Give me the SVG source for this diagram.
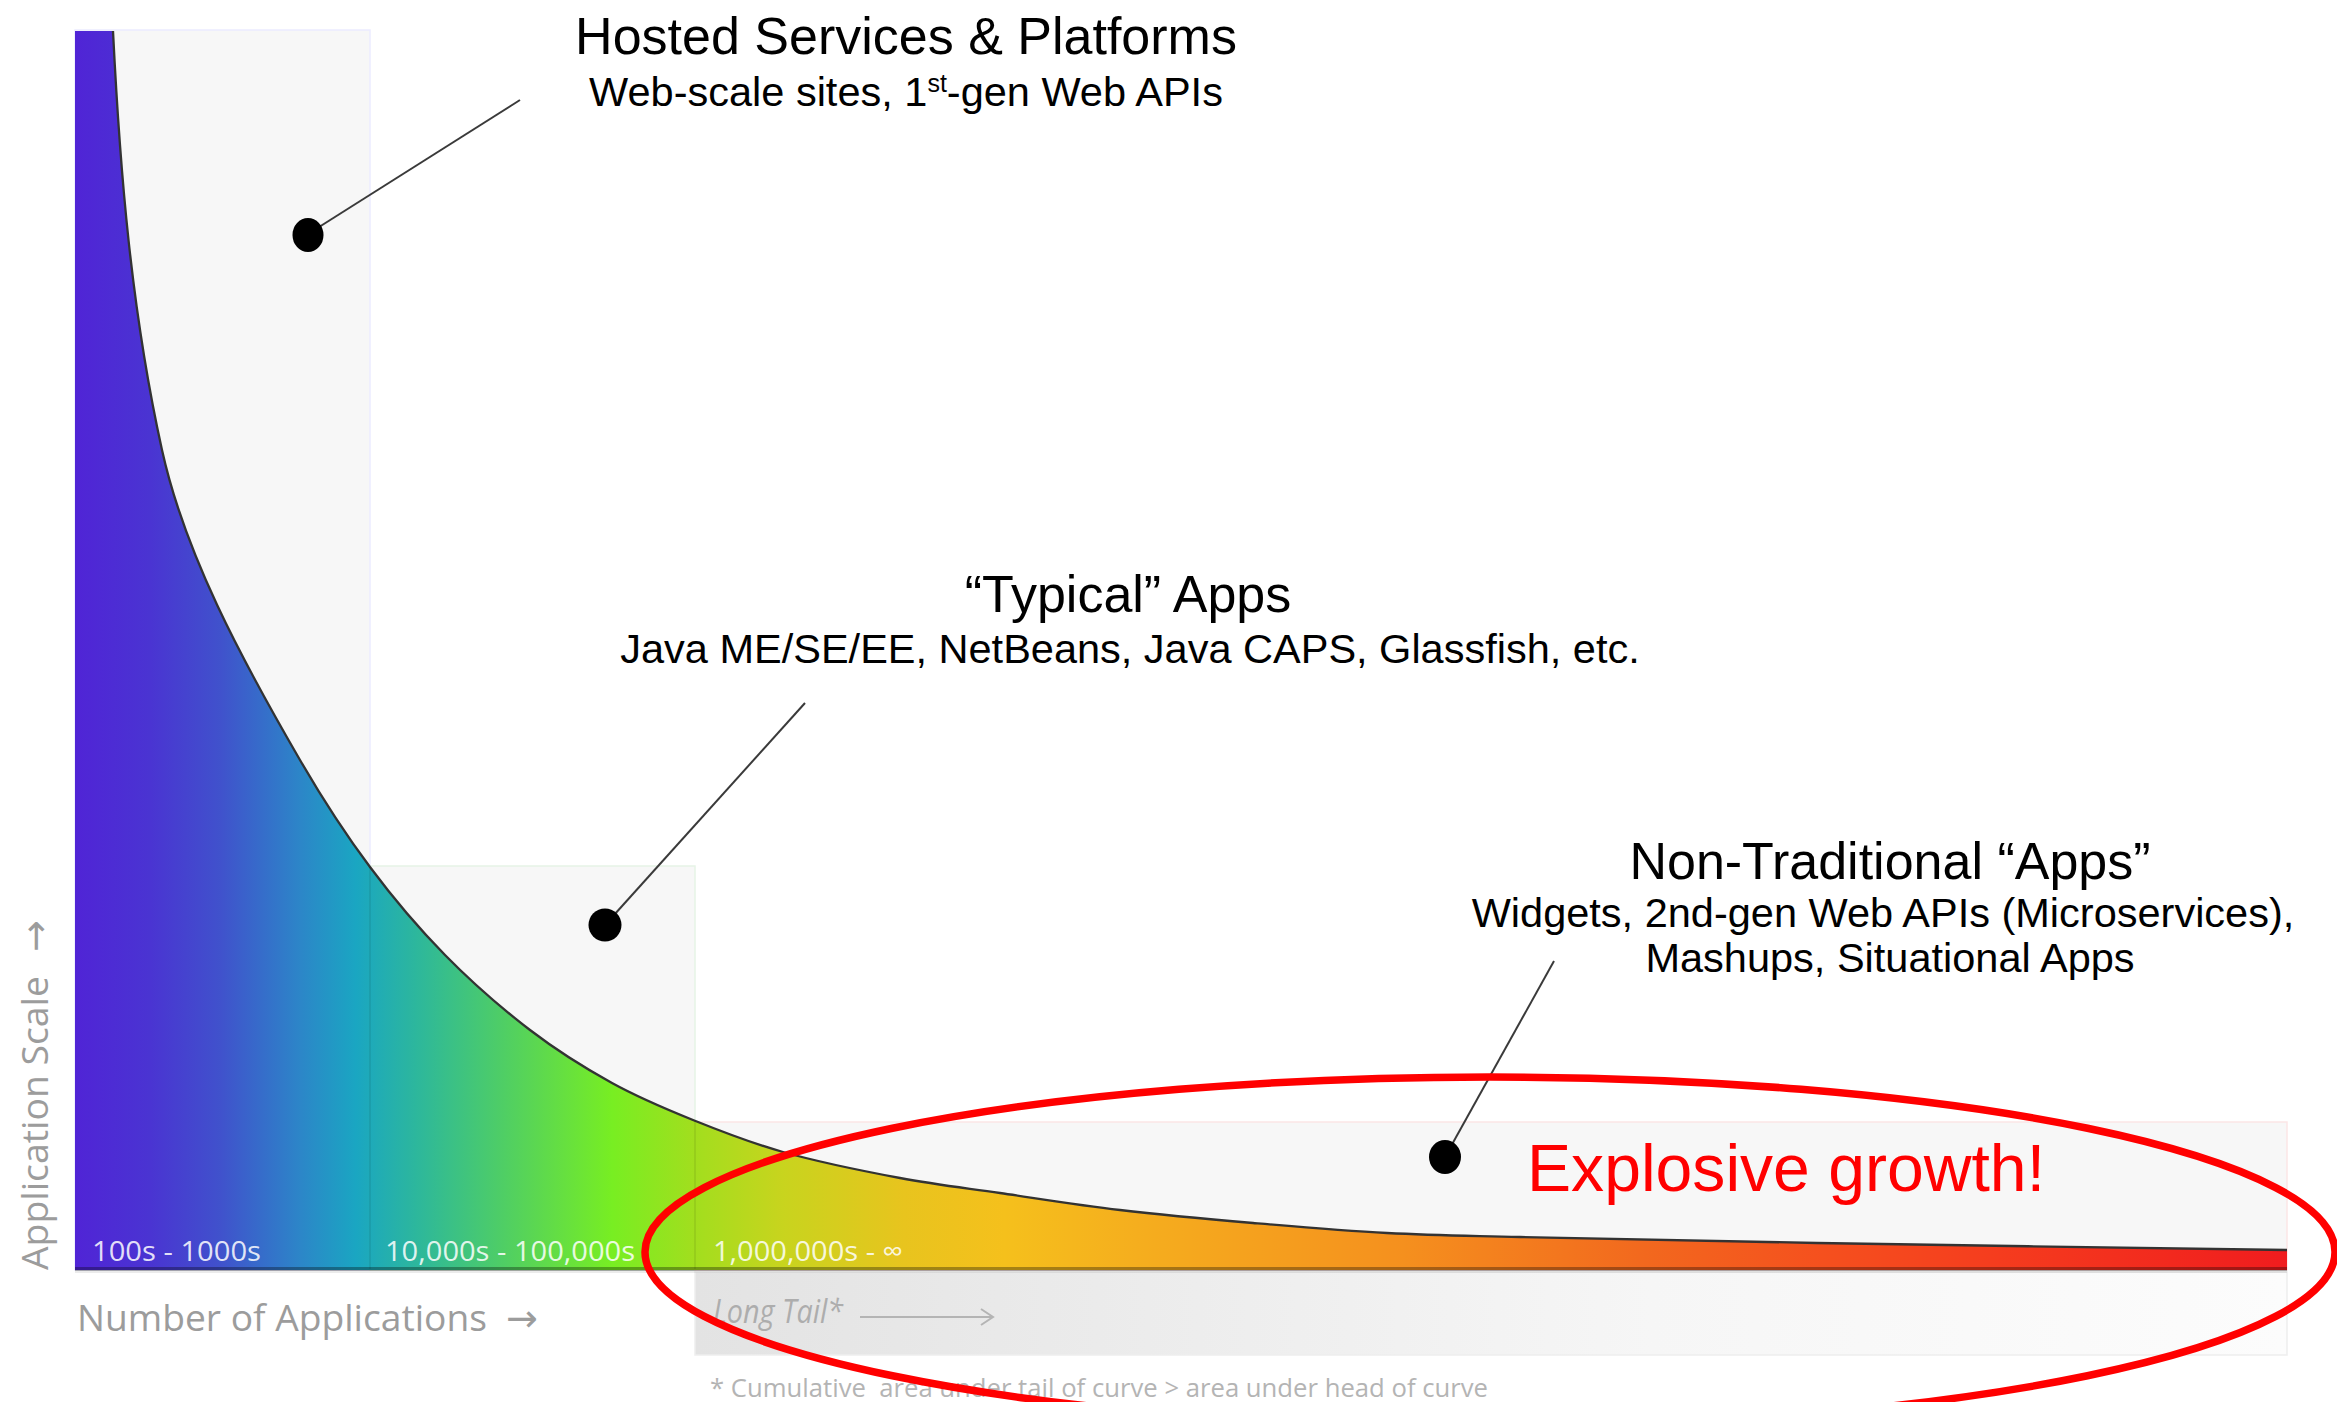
<svg xmlns="http://www.w3.org/2000/svg" width="2337" height="1402" viewBox="0 0 2337 1402">
  <style>
    .head { font-family: "Liberation Sans", Arial, sans-serif; font-size: 52px; fill: #000; text-anchor: middle; }
    .sub { font-family: "Liberation Sans", Arial, sans-serif; font-size: 41.5px; fill: #000; text-anchor: middle; }
    .axis { font-family: "Open Sans", "Noto Sans", sans-serif; font-size: 37px; fill: #9c9c9c; }
    .arrow { font-family: "DejaVu Sans", sans-serif; font-size: 38px; fill: #9c9c9c; }
    .band { font-family: "Open Sans", "Noto Sans", sans-serif; font-size: 28px; fill: #ffffff; fill-opacity: 0.85; }
    .note { font-family: "Open Sans", "Noto Sans", sans-serif; font-size: 26px; fill: #b4b4b4; white-space: pre; }
    .zone { fill: #f7f7f7; stroke-width: 1.5; }
    .leader { stroke: #3a3a3a; stroke-width: 2; fill: none; }
    .dot { fill: #000; }
  </style>
  <defs>
    <linearGradient id="spectrum" gradientUnits="userSpaceOnUse" x1="75" y1="0" x2="2287" y2="0">
      <stop offset="0" stop-color="#5024d6"/>
      <stop offset="0.034" stop-color="#4a34d2"/>
      <stop offset="0.066" stop-color="#4052cc"/>
      <stop offset="0.102" stop-color="#2c86c8"/>
      <stop offset="0.127" stop-color="#1aa6c2"/>
      <stop offset="0.156" stop-color="#2eb89a"/>
      <stop offset="0.197" stop-color="#52d060"/>
      <stop offset="0.243" stop-color="#78ee22"/>
      <stop offset="0.28" stop-color="#a2de1e"/>
      <stop offset="0.32" stop-color="#c8d41e"/>
      <stop offset="0.375" stop-color="#e8c41e"/>
      <stop offset="0.42" stop-color="#f5c01c"/>
      <stop offset="0.48" stop-color="#f5ae1e"/>
      <stop offset="0.6" stop-color="#f5901e"/>
      <stop offset="0.71" stop-color="#f2681e"/>
      <stop offset="0.79" stop-color="#f5501e"/>
      <stop offset="0.87" stop-color="#f53c1e"/>
      <stop offset="1" stop-color="#f01c1e"/>
    </linearGradient>
    <linearGradient id="tailband" gradientUnits="userSpaceOnUse" x1="695" y1="0" x2="2287" y2="0">
      <stop offset="0" stop-color="#e3e3e3"/>
      <stop offset="0.6" stop-color="#f6f6f6"/>
      <stop offset="1" stop-color="#fcfcfc"/>
    </linearGradient>
    <marker id="openhead" viewBox="0 0 20 20" refX="18" refY="10" markerWidth="20" markerHeight="20" markerUnits="userSpaceOnUse" orient="auto">
      <path d="M6,2 L18,10 L6,18" fill="none" stroke="#b4b4b4" stroke-width="2"/>
    </marker>
  </defs>

  <!-- background zones -->
  <g id="zones">
    <rect class="zone" x="75" y="30" width="295" height="1240" stroke="#ececff"/>
    <rect class="zone" x="370" y="866" width="325" height="404" stroke="#e6f4e6"/>
    <rect class="zone" x="695" y="1122" width="1592" height="148" stroke="#fbe6e6"/>
    <rect x="695" y="1272" width="1592" height="83" fill="url(#tailband)" stroke="#eeeeee" stroke-width="1.5"/>
  </g>

  <!-- long tail curve -->
  <g id="curve">
    <path d="M75,31 L113,31 C120,171 131.2,310 162,450 C184.7,553 240.3,657 300,760 C320.7,795.7 343.2,831.3 370,867 C394.2,899.5 418.3,927.8 445,955 C471.7,982.2 502.2,1008.7 530,1030 C557.8,1051.3 584.8,1068 612,1083 C639.2,1098 664.5,1108.5 693,1120 C721.5,1131.5 748.5,1142.3 783,1152 C817.5,1161.7 863.8,1171.2 900,1178 C936.2,1184.8 963.3,1187.7 1000,1193 C1036.7,1198.3 1077.8,1205 1120,1210 C1162.2,1215 1208.5,1219.2 1253,1223 C1297.5,1226.8 1342.5,1230.7 1387,1233 C1431.5,1235.3 1448.3,1235.3 1520,1237 C1591.7,1238.7 1689.2,1240.8 1817,1243 C1944.8,1245.2 2208.7,1248.8 2287,1250 L2287,1270 L75,1270 Z" fill="url(#spectrum)"/>
    <path d="M113,31 C120,171 131.2,310 162,450 C184.7,553 240.3,657 300,760 C320.7,795.7 343.2,831.3 370,867 C394.2,899.5 418.3,927.8 445,955 C471.7,982.2 502.2,1008.7 530,1030 C557.8,1051.3 584.8,1068 612,1083 C639.2,1098 664.5,1108.5 693,1120 C721.5,1131.5 748.5,1142.3 783,1152 C817.5,1161.7 863.8,1171.2 900,1178 C936.2,1184.8 963.3,1187.7 1000,1193 C1036.7,1198.3 1077.8,1205 1120,1210 C1162.2,1215 1208.5,1219.2 1253,1223 C1297.5,1226.8 1342.5,1230.7 1387,1233 C1431.5,1235.3 1448.3,1235.3 1520,1237 C1591.7,1238.7 1689.2,1240.8 1817,1243 C1944.8,1245.2 2208.7,1248.8 2287,1250" fill="none" stroke="#333" stroke-width="2.3"/>
    <line x1="370" y1="867" x2="370" y2="1269" stroke="#000" stroke-opacity="0.07" stroke-width="2"/>
    <line x1="695" y1="1121" x2="695" y2="1269" stroke="#000" stroke-opacity="0.07" stroke-width="2"/>
    <rect x="75" y="1267" width="2212" height="4" fill="#000" fill-opacity="0.32"/>
    <rect x="75" y="1271" width="2212" height="2" fill="#000" fill-opacity="0.08"/>
  </g>

  <!-- band labels -->
  <g id="band-labels">
    <text class="band" x="92" y="1261" textLength="169" lengthAdjust="spacingAndGlyphs">100s - 1000s</text>
    <text class="band" x="385" y="1261" textLength="250" lengthAdjust="spacingAndGlyphs">10,000s - 100,000s</text>
    <text class="band" x="713" y="1261" textLength="190" lengthAdjust="spacingAndGlyphs">1,000,000s - ∞</text>
  </g>

  <!-- axes -->
  <g id="axis-x">
    <text class="axis" x="77" y="1331" textLength="410" lengthAdjust="spacingAndGlyphs">Number of Applications</text>
    <text class="arrow" x="506" y="1331">→</text>
  </g>
  <g id="axis-y">
    <g transform="translate(48,1270) rotate(-90)">
      <text class="axis" x="0" y="0" textLength="294" lengthAdjust="spacingAndGlyphs">Application Scale</text>
      <text class="arrow" x="318" y="0">→</text>
    </g>
  </g>

  <!-- long tail annotation -->
  <g id="long-tail">
    <text class="note" x="713" y="1323" style="font-size:32px;font-style:italic;fill:#adadad" textLength="130" lengthAdjust="spacingAndGlyphs">Long Tail*</text>
    <line x1="860" y1="1317" x2="993" y2="1317" stroke="#b4b4b4" stroke-width="2" marker-end="url(#openhead)"/>
    <text class="note" x="710" y="1397" textLength="778" lengthAdjust="spacingAndGlyphs">* Cumulative  area under tail of curve &gt; area under head of curve</text>
  </g>

  <!-- connectors -->
  <g id="connectors">
    <line class="leader" x1="308" y1="234" x2="520" y2="100"/>
    <line class="leader" x1="605" y1="925" x2="805" y2="703"/>
    <line class="leader" x1="1445" y1="1157" x2="1554" y2="961"/>
  </g>

  <!-- nodes -->
  <g id="node-hosted">
    <ellipse class="dot" cx="308" cy="235" rx="15.5" ry="17"/>
    <text class="head" x="906" y="54">Hosted Services &amp; Platforms</text>
    <text class="sub" x="906" y="106">Web-scale sites, 1<tspan baseline-shift="super" style="font-size:25px">st</tspan>-gen Web APIs</text>
  </g>
  <g id="node-typical">
    <ellipse class="dot" cx="605" cy="925" rx="16.5" ry="16.5"/>
    <text class="head" x="1128" y="612">“Typical” Apps</text>
    <text class="sub" x="1130" y="663">Java ME/SE/EE, NetBeans, Java CAPS, Glassfish, etc.</text>
  </g>
  <g id="node-nontraditional">
    <ellipse class="dot" cx="1445" cy="1157" rx="16" ry="17"/>
    <text class="head" x="1890" y="879">Non-Traditional “Apps”</text>
    <text class="sub" x="1883" y="927">Widgets, 2nd-gen Web APIs (Microservices),</text>
    <text class="sub" x="1890" y="972">Mashups, Situational Apps</text>
  </g>

  <!-- highlight -->
  <g id="highlight">
    <ellipse cx="1490" cy="1252" rx="845" ry="175" fill="none" stroke="#ff0000" stroke-width="7.5"/>
    <text x="1527" y="1191" style="font-family:'Liberation Sans',Arial,sans-serif;font-size:67px;fill:#ff0000" textLength="518" lengthAdjust="spacingAndGlyphs">Explosive growth!</text>
  </g>
</svg>
